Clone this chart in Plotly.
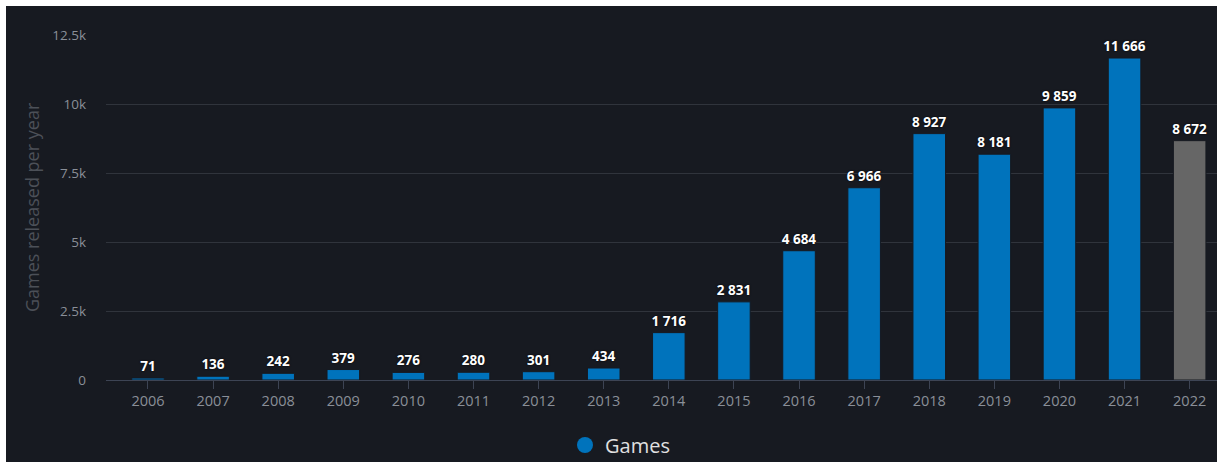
import plotly.graph_objects as go

years = ["2006", "2007", "2008", "2009", "2010", "2011", "2012", "2013", "2014",
         "2015", "2016", "2017", "2018", "2019", "2020", "2021", "2022"]
games = [71, 136, 242, 379, 276, 280, 301, 434, 1716, 2831, 4684, 6966, 8927,
         8181, 9859, 11666, 8672]
ytick_vals = [0, 2500, 5000, 7500, 10000, 12500]
ytick_text = ["0", "2.5k", "5k", "7.5k", "10k", "12.5k"]

BG = "#171a21"
BLUE = "#0073bc"
GRAY = "#666666"

W, H = 1217, 462
L, R, T, B = 106, 0, 35, 82
pw, ph = W - L - R, H - T - B

labels = [f"{v:,}".replace(",", " ") for v in games]
colors = [BLUE] * (len(years) - 1) + [GRAY]

fig = go.Figure()
fig.add_trace(go.Bar(
    x=years, y=games, text=labels, textposition="outside", constraintext="none",
    textfont=dict(color="#ffffff", size=13.5, family="Open Sans", weight="bold",
                  shadow="0px 0px 2px #000000"),
    marker=dict(color=colors, line=dict(color=BG, width=1)),
    cliponaxis=False, showlegend=False, width=0.5,
))
fig.add_trace(go.Scatter(
    x=[None], y=[None], mode="markers", name="Games",
    marker=dict(color=BLUE, size=20, symbol="circle"),
))

fig.update_layout(
    width=W, height=H,
    margin=dict(l=L, r=R, t=T, b=B, autoexpand=False),
    paper_bgcolor=BG, plot_bgcolor=BG,
    font=dict(family="Open Sans", color="#8a8f98"),
    showlegend=True,
    legend=dict(orientation="h", x=(620 - L) / pw, xanchor="center",
                y=1 - (445 - T) / ph, yanchor="middle",
                font=dict(size=20, color="#e0e0e0"), bgcolor="rgba(0,0,0,0)"),
    xaxis=dict(
        type="category", range=[-0.645, 16.42], showgrid=False,
        showline=True, linecolor="#3d4454", linewidth=1,
        ticks="outside", ticklen=8, tickcolor="#3d4454",
        tickfont=dict(size=14.5, color="#8a8f98"), zeroline=False,
    ),
    yaxis=dict(
        range=[0, 12500], tickvals=ytick_vals, ticktext=ytick_text,
        showgrid=True, gridcolor="#30343c", gridwidth=1, zeroline=False,
        tickfont=dict(size=13.5, color="#8a8f98"), ticklabelstandoff=19,
        showline=False,
    ),
    annotations=[dict(
        text="Games released per year", textangle=-90,
        xref="paper", yref="paper", x=(32 - L) / pw, y=1 - (207 - T) / ph,
        xanchor="center", yanchor="middle", showarrow=False,
        font=dict(size=18, color="#4c5058"),
    )],
    shapes=[
        dict(type="rect", xref="paper", yref="paper",
             x0=-L / pw, x1=(6 - L) / pw, y0=1 - (H - T) / ph, y1=1 + T / ph,
             fillcolor="#ffffff", line=dict(width=0), layer="below"),
        dict(type="rect", xref="paper", yref="paper",
             x0=-L / pw, x1=1.0, y0=1 + (T - 6) / ph, y1=1 + T / ph,
             fillcolor="#ffffff", line=dict(width=0), layer="below"),
    ],
)

fig.write_html("out.html", config={"displayModeBar": False},
               post_script="document.body.style.margin='0';")
